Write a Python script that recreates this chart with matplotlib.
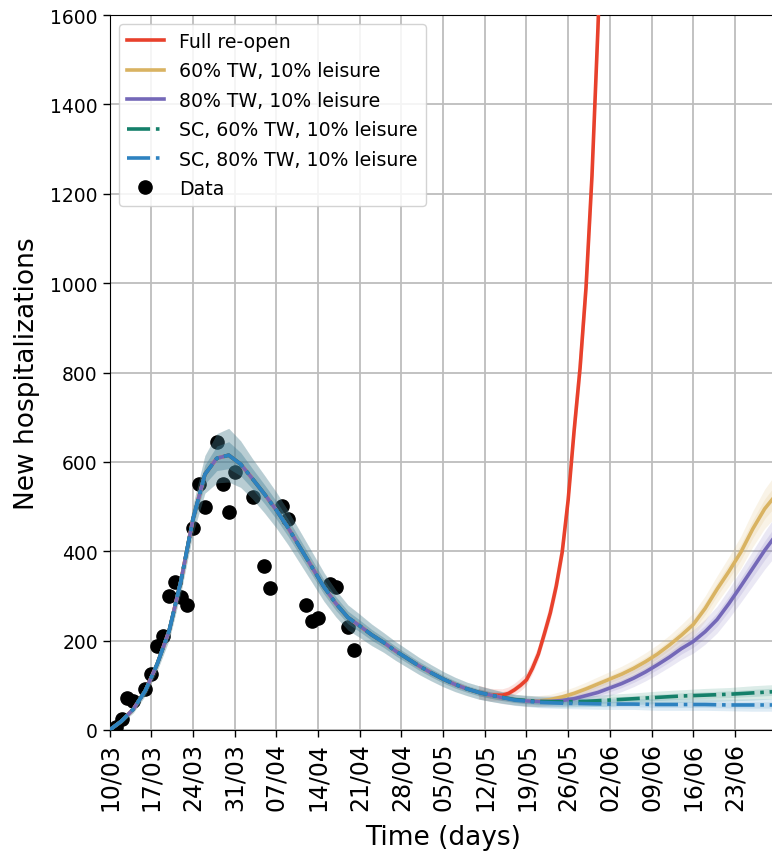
import matplotlib
matplotlib.use("Agg")
import matplotlib.pyplot as plt
import numpy as np

# ---- data (days since 10/03) ----
tick_days = [0, 7, 14, 21, 28, 35, 42, 49, 56, 63, 70, 77, 84, 91, 98, 105]
tick_labels = ["10/03", "17/03", "24/03", "31/03", "07/04", "14/04", "21/04", "28/04",
               "05/05", "12/05", "19/05", "26/05", "02/06", "09/06", "16/06", "23/06"]

common_days = [0, 2, 4, 6, 8, 10, 12, 14, 16, 18, 20, 22, 24, 26, 28, 30, 32, 34, 36, 38,
               40, 42, 44, 46, 48, 50, 52, 54, 56, 58, 60, 62]
common_vals = [0, 20, 47, 88, 148, 222, 335, 472, 572, 608, 615, 595, 562, 528, 492, 452,
               408, 364, 320, 283, 252, 233, 213, 196, 177, 160, 143, 128, 114, 102, 92, 84]
common_spread = [3, 5, 8, 11, 15, 20, 25, 32, 42, 55, 60, 52, 45, 42, 40, 38, 36, 34, 32, 30,
                 28, 26, 24, 22, 21, 20, 19, 18, 17, 16, 15, 15]

red_days = [64, 66, 67, 68, 69, 70, 71, 72, 73, 74, 75, 76, 77, 78, 79, 80, 81, 82, 83]
red_vals = [78, 78, 82, 90, 100, 112, 138, 170, 215, 262, 322, 398, 515, 670, 810, 990,
            1240, 1570, 1950]
red_spread = [14, 13, 13, 13, 14, 14, 15, 16, 18, 21, 24, 28, 33, 40, 48, 58, 70, 85, 100]

tail_days = [64, 66, 68, 70, 72, 74, 76, 78, 80, 82, 84, 86, 88, 90, 92, 94, 96, 98, 100,
             102, 104, 106, 108, 110, 112]
yellow_vals = [78, 72, 68, 65, 65, 68, 74, 82, 92, 103, 114, 125, 138, 153, 170, 190, 212,
               236, 272, 315, 355, 398, 450, 495, 528]
yellow_spread = [14, 13, 12, 12, 12, 12, 13, 14, 15, 16, 17, 18, 19, 20, 21, 22, 24, 26, 28,
                 30, 33, 36, 40, 44, 48]
purple_vals = [78, 72, 68, 65, 64, 64, 66, 70, 77, 84, 94, 104, 116, 130, 146, 163, 182,
               198, 220, 247, 283, 322, 362, 402, 438]
purple_spread = [14, 13, 12, 12, 12, 12, 13, 14, 15, 16, 17, 18, 19, 20, 21, 22, 24, 26, 28,
                 30, 33, 36, 39, 42, 45]

sc_days = [64, 68, 72, 76, 80, 84, 88, 92, 96, 100, 104, 108, 112]
green_vals = [78, 68, 64, 63, 64, 67, 70, 73, 76, 78, 80, 83, 86]
green_spread = [14, 12, 12, 12, 12, 13, 13, 14, 14, 15, 15, 16, 16]
blue_vals = [78, 67, 62, 60, 59, 58, 58, 57, 57, 57, 56, 56, 56]
blue_spread = [14, 12, 12, 12, 12, 12, 12, 13, 13, 13, 13, 14, 14]

data_days = [1, 2, 3, 4, 6, 7, 8, 9, 10, 11, 12, 13, 14, 15, 16, 18, 19, 20, 21, 24, 26,
             27, 29, 30, 33, 34, 35, 37, 38, 40, 41]
data_vals = [7, 25, 72, 66, 92, 125, 189, 211, 300, 332, 298, 280, 451, 550, 498, 644, 550,
             487, 577, 521, 368, 317, 502, 472, 280, 245, 250, 327, 319, 230, 180]

series = [
    ("Full re-open", "#E8412C", "-", red_days, red_vals, red_spread, 0.04),
    ("60% TW, 10% leisure", "#D9B362", "-", tail_days, yellow_vals, yellow_spread, 0.06),
    ("80% TW, 10% leisure", "#7468B8", "-", tail_days, purple_vals, purple_spread, 0.04),
    ("SC, 60% TW, 10% leisure", "#15806A", "-.", sc_days, green_vals, green_spread, 0.14),
    ("SC, 80% TW, 10% leisure", "#2E82C0", "-.", sc_days, blue_vals, blue_spread, 0.17),
]

fig = plt.figure(figsize=(7.72, 8.53), dpi=100)
ax = fig.add_axes([109.6 / 772, 1 - 731 / 853, 667 / 772, 715 / 853])
ax.set_axisbelow(True)
ax.grid(True, color="#bdbdbd", linewidth=1.3)

ax.plot(data_days, data_vals, "o", color="black", markersize=9.5, zorder=2,
        label="Data", linestyle="none")

cx = np.array(common_days, dtype=float)
cy = np.array(common_vals, dtype=float)
cs = np.array(common_spread, dtype=float)
for label, color, ls, d, v, s, ca in series:
    # shared early phase
    ax.fill_between(cx, cy - cs, cy + cs, color=color, alpha=ca, linewidth=0, zorder=3)
    ax.fill_between(cx, cy - 0.5 * cs, cy + 0.5 * cs, color=color, alpha=ca,
                    linewidth=0, zorder=3)
    # scenario tail
    tx = np.array(common_days[-1:] + d, dtype=float)
    ty = np.array(common_vals[-1:] + v, dtype=float)
    ts = np.array(common_spread[-1:] + s, dtype=float)
    ax.fill_between(tx, ty - ts, ty + ts, color=color, alpha=0.15, linewidth=0, zorder=3)
    ax.fill_between(tx, ty - 0.5 * ts, ty + 0.5 * ts, color=color, alpha=0.15,
                    linewidth=0, zorder=3)
for label, color, ls, d, v, s, ca in series:
    x = np.array(common_days + d, dtype=float)
    y = np.array(common_vals + v, dtype=float)
    ax.plot(x, y, ls, color=color, linewidth=2.6, label=label, zorder=4)

ax.set_xlim(0, 112)
ax.set_ylim(0, 1600)
ax.set_xticks(tick_days)
ax.set_xticklabels(tick_labels, rotation=90, fontsize=17)
ax.set_yticks(range(0, 1601, 200))
ax.tick_params(axis="y", labelsize=13.5)
ax.tick_params(length=5, width=1)
ax.set_xlabel("Time (days)", fontsize=19, labelpad=10)
ax.set_ylabel("New hospitalizations", fontsize=19, labelpad=7)

handles, labels = ax.get_legend_handles_labels()
order = [1, 2, 3, 4, 5, 0]
ax.legend([handles[i] for i in order], [labels[i] for i in order], loc="upper left",
          fontsize=13.6, framealpha=0.85, labelspacing=0.55)

fig.savefig("out.png", dpi=100)
